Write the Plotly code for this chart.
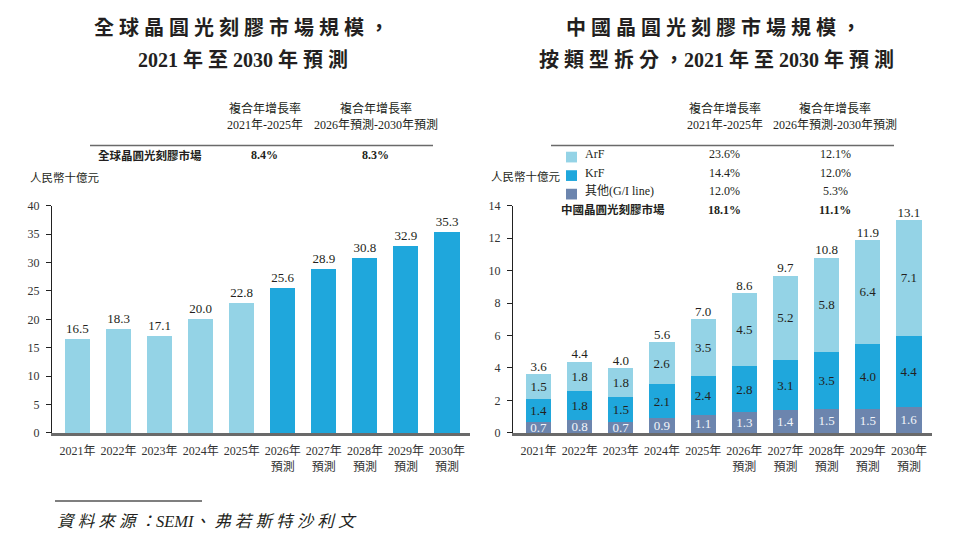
import plotly.graph_objects as go

# ---------------- data ----------------
years = ["2021年", "2022年", "2023年", "2024年", "2025年",
         "2026年<br>預測", "2027年<br>預測", "2028年<br>預測", "2029年<br>預測", "2030年<br>預測"]
global_market = [16.5, 18.3, 17.1, 20.0, 22.8, 25.6, 28.9, 30.8, 32.9, 35.3]
forecast_flag = [False, False, False, False, False, True, True, True, True, True]

arf = [1.5, 1.8, 1.8, 2.6, 3.5, 4.5, 5.2, 5.8, 6.4, 7.1]
krf = [1.4, 1.8, 1.5, 2.1, 2.4, 2.8, 3.1, 3.5, 4.0, 4.4]
other = [0.7, 0.8, 0.7, 0.9, 1.1, 1.3, 1.4, 1.5, 1.5, 1.6]
china_total = [3.6, 4.4, 4.0, 5.6, 7.0, 8.6, 9.7, 10.8, 11.9, 13.1]

cagr_header_1 = "2021年-2025年"
cagr_header_2 = "2026年預測-2030年預測"
global_cagr = ["8.4%", "8.3%"]
china_rows = ["ArF", "KrF", "其他(G/I line)"]
china_cagr_1 = ["23.6%", "14.4%", "12.0%"]
china_cagr_2 = ["12.1%", "12.0%", "5.3%"]
china_total_cagr = ["18.1%", "11.1%"]

# ---------------- styles ----------------
LIGHT = "#94D3E6"
MID = "#1FA7DC"
GREY = "#6C85AE"
TXT = "#231F20"
SERIF = "Liberation Serif, 'Noto Sans CJK TC', serif"
CJK = "'Noto Sans CJK TC', 'Liberation Serif', sans-serif"

W, H = 954, 550


def px(x):
    return x / W


def py(y):
    return 1 - y / H


fig = go.Figure()

# Left chart: global market
fig.add_trace(go.Bar(
    x=years, y=global_market,
    marker=dict(color=[MID if f else LIGHT for f in forecast_flag], line=dict(width=0)),
    width=0.61,
    text=[f"{v:.1f}" for v in global_market],
    textposition="outside", cliponaxis=False,
    textfont=dict(family=SERIF, size=13, color=TXT),
    xaxis="x", yaxis="y", showlegend=False, hoverinfo="skip",
))

# Right chart: China market, stacked
series = [("其他(G/I line)", other, GREY, "#F2F5FA"),
          ("KrF", krf, MID, TXT),
          ("ArF", arf, LIGHT, TXT)]
for name, vals, col, tcol in series:
    fig.add_trace(go.Bar(
        x=years, y=vals, name=name,
        marker=dict(color=col, line=dict(width=0)),
        width=0.61,
        text=[f"{v:.1f}" for v in vals],
        textposition="inside", insidetextanchor="middle", textangle=0,
        constraintext="none",
        textfont=dict(family=SERIF, size=13, color=tcol),
        xaxis="x2", yaxis="y2", showlegend=False, hoverinfo="skip",
    ))

fig.add_trace(go.Scatter(
    x=years, y=china_total, mode="text",
    text=[f"{v:.1f}" for v in china_total],
    textposition="top center",
    textfont=dict(family=SERIF, size=13, color=TXT),
    xaxis="x2", yaxis="y2", showlegend=False, hoverinfo="skip", cliponaxis=False,
))

ydom = [py(437), py(204)]
xaxis_common = dict(type="category", showline=True, linecolor="#6A6A6A", linewidth=2.5,
                    ticks="", showgrid=False, zeroline=False, ticklabelstandoff=5,
                    tickfont=dict(family=SERIF, size=12, color="#333"),
                    range=[-0.62, 9.56], fixedrange=True)
yaxis_common = dict(showline=True, linecolor="#222", linewidth=1, ticks="outside",
                    ticklen=5, tickcolor="#222", showgrid=False, zeroline=False,
                    tickfont=dict(family=SERIF, size=12, color="#333"),
                    ticklabelstandoff=4, domain=ydom, fixedrange=True)

fig.update_layout(
    width=W, height=H, autosize=False,
    margin=dict(l=0, r=0, t=0, b=0),
    paper_bgcolor="white", plot_bgcolor="white",
    barmode="stack",
    xaxis=dict(xaxis_common, domain=[px(52), px(470)], anchor="y"),
    yaxis=dict(yaxis_common, range=[0, 40], dtick=5, anchor="x"),
    xaxis2=dict(xaxis_common, domain=[px(513), px(932)], anchor="y2"),
    yaxis2=dict(yaxis_common, range=[0, 14], dtick=2, anchor="x2"),
)

ann = []


def add_text(x, y, text, size=12, family=CJK, xanchor="center", color=TXT, bold=False, italic=False):
    t = f"<b>{text}</b>" if bold else text
    t = f"<i>{t}</i>" if italic else t
    ann.append(dict(x=px(x), y=py(y), xref="paper", yref="paper", text=t, showarrow=False,
                    xanchor=xanchor, yanchor="middle",
                    font=dict(family=family, size=size, color=color)))


# Titles
TITLE_FONT = "'Liberation Serif', 'Noto Sans CJK TC', serif"
add_text(241, 21, "全 球 晶 圓 光 刻 膠 市 場 規 模 ，", size=20, family=TITLE_FONT, bold=True)
add_text(243, 54, "2021 年 至 2030 年 預 測", size=20, family=TITLE_FONT, bold=True)
add_text(713, 21, "中 國 晶 圓 光 刻 膠 市 場 規 模 ，", size=20, family=TITLE_FONT, bold=True)
add_text(716, 54, "按 類 型 拆 分 ，2021 年 至 2030 年 預 測", size=20, family=TITLE_FONT, bold=True)

# Left table
add_text(265, 104, "複合年增長率", size=12, family=SERIF)
add_text(265, 121, cagr_header_1, size=12, family=SERIF)
add_text(376, 104, "複合年增長率", size=12, family=SERIF)
add_text(376, 121, cagr_header_2, size=12, family=SERIF)
add_text(96, 152, "全球晶圓光刻膠市場", size=11.5, family=SERIF, xanchor="left", bold=True)
add_text(264, 152, global_cagr[0], size=12, family=SERIF, bold=True)
add_text(375, 152, global_cagr[1], size=12, family=SERIF, bold=True)
add_text(28, 175, "人民幣十億元", size=11.5, family=SERIF, xanchor="left")

# Right table
add_text(725, 104, "複合年增長率", size=12, family=SERIF)
add_text(725, 121, cagr_header_1, size=12, family=SERIF)
add_text(835, 104, "複合年增長率", size=12, family=SERIF)
add_text(835, 121, cagr_header_2, size=12, family=SERIF)
row_y = [154, 173, 192]
for i, name in enumerate(china_rows):
    add_text(583, row_y[i] - 3, name, size=12, family=SERIF, xanchor="left")
    add_text(724, row_y[i] - 3, china_cagr_1[i], size=12, family=SERIF)
    add_text(835, row_y[i] - 3, china_cagr_2[i], size=12, family=SERIF)
add_text(559, 208, "中國晶圓光刻膠市場", size=11.5, family=SERIF, xanchor="left", bold=True)
add_text(724, 208, china_total_cagr[0], size=12, family=SERIF, bold=True)
add_text(835, 208, china_total_cagr[1], size=12, family=SERIF, bold=True)
add_text(489, 174, "人民幣十億元", size=11.5, family=SERIF, xanchor="left")

# Source
add_text(55, 528, "資 料 來 源 ：SEMI、 弗 若 斯 特 沙 利 文", size=16.5, family=SERIF,
         xanchor="left", italic=True)

shapes = [
    dict(type="line", xref="paper", yref="paper", x0=px(90), x1=px(433), y0=py(142), y1=py(142),
         line=dict(color="#6A6A6A", width=1.5)),
    dict(type="line", xref="paper", yref="paper", x0=px(551), x1=px(894), y0=py(142), y1=py(142),
         line=dict(color="#6A6A6A", width=1.5)),
    dict(type="line", xref="paper", yref="paper", x0=px(55), x1=px(202), y0=py(507), y1=py(507),
         line=dict(color="#555", width=1.5)),
]
swatch_colors = [LIGHT, MID, GREY]
for i, c in enumerate(swatch_colors):
    shapes.append(dict(type="rect", xref="paper", yref="paper",
                       x0=px(566), x1=px(577), y0=py(row_y[i] + 5.5), y1=py(row_y[i] - 5.5),
                       fillcolor=c, line=dict(width=0)))

fig.update_layout(annotations=ann, shapes=shapes)

fig.write_html("out.html")
